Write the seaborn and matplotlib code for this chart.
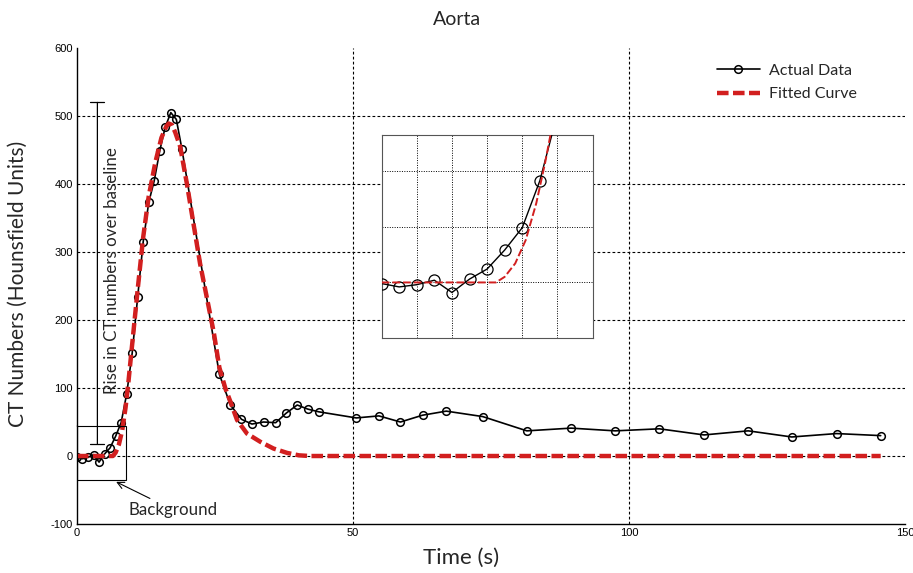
import matplotlib
matplotlib.use("Agg")
import matplotlib.pyplot as plt
import seaborn as sns
import pandas as pd
from matplotlib.patches import Rectangle, ConnectionPatch

# ---------------- data ----------------
t_actual = [0, 1, 2, 3, 4, 5, 6, 7, 8, 9, 10, 11, 12, 13, 14, 15, 16, 17, 18, 19,
            25.8, 27.8, 29.8, 31.7, 33.8, 36.0, 37.9, 39.9, 41.8, 43.8,
            50.6, 54.7, 58.6, 62.6, 66.9, 73.5, 81.5, 89.5, 97.5, 105.5,
            113.6, 121.6, 129.5, 137.6, 145.6]
hu_actual = [-1, -4, -2, 2, -9, 3, 12, 29, 49, 91, 151, 234, 315, 373, 405, 449, 484, 505, 495, 452,
             120, 75, 54, 47, 50, 49, 63, 75, 69, 65,
             56, 59, 50, 60, 66, 58, 37, 41, 37, 40,
             31, 37, 28, 33, 30]

t_fit = [0, 6.5, 7.0, 7.6, 8.2, 8.8, 9.3, 9.8, 11.0, 12.0, 13.0, 14.2, 15.3, 16.2, 16.6,
         17.2, 17.8, 18.7, 19.9, 21.1, 22.3, 23.6, 24.8, 25.8, 26.9, 27.7, 29.0, 30.8,
         33.2, 35.6, 38.1, 40.2, 42.2, 145.6]
hu_fit = [0, 0, 5, 17, 38, 71, 107, 148, 245, 322, 382, 432, 468, 485, 489,
          487, 476, 455, 401, 342, 283, 230, 181, 130, 99, 82, 53, 33,
          21, 11, 4.5, 1, 0, 0]

x_ticks = [0, 50, 100, 150]
y_ticks = [-100, 0, 100, 200, 300, 400, 500, 600]

df_act = pd.DataFrame({"t": t_actual, "hu": hu_actual})
df_fit = pd.DataFrame({"t": t_fit, "hu": hu_fit})

# ---------------- style ----------------
sns.set_theme(style="white")
plt.rcParams["font.family"] = ["Lato", "DejaVu Sans"]

RED = "#d21f1f"
GRID = dict(color="black", linestyle=(0, (2.5, 2.0)), linewidth=0.8)

fig = plt.figure(figsize=(9.13, 5.73), dpi=100)
ax = fig.add_axes([0.0843, 0.0855, 0.9069, 0.8307])

sns.lineplot(data=df_act, x="t", y="hu", ax=ax, color="black", linewidth=1.2,
             marker="o", markersize=5.5, markerfacecolor="none",
             markeredgecolor="black", markeredgewidth=1.1, label="Actual Data",
             zorder=4)
sns.lineplot(data=df_fit, x="t", y="hu", ax=ax, color=RED, linewidth=3.2,
             linestyle=(0, (2.6, 1.0)), label="Fitted Curve", zorder=5)

ax.set_xlim(0, 150)
ax.set_ylim(-100, 600)
ax.set_xticks(x_ticks)
ax.set_yticks(y_ticks)
ax.set_xticklabels([str(v) for v in x_ticks], family="Liberation Sans", fontsize=8)
ax.set_yticklabels([str(v) for v in y_ticks], family="Liberation Sans", fontsize=8)
ax.tick_params(axis="both", direction="in", length=4, width=0.8, pad=3, colors="black")

for v in [0, 100, 200, 300, 400, 500]:
    ax.axhline(v, zorder=1, **GRID)
for v in [50, 100]:
    ax.axvline(v, zorder=1, **GRID)

for s in ["top", "right"]:
    ax.spines[s].set_visible(False)
for s in ["left", "bottom"]:
    ax.spines[s].set_color("black")
    ax.spines[s].set_linewidth(1.0)

ax.set_xlabel("")
ax.set_ylabel("")
fig.text(0.505, 0.026, "Time (s)", ha="center", va="center", fontsize=16)
fig.text(0.02, 0.505, "CT Numbers (Hounsfield Units)", ha="center", va="center",
         rotation=90, fontsize=15)
fig.text(0.5, 0.966, "Aorta", ha="center", va="center", fontsize=14)

leg = ax.legend(loc="upper right", bbox_to_anchor=(0.95, 0.981), frameon=False,
                fontsize=11.5, handlelength=2.7, handletextpad=0.6,
                labelspacing=0.6, borderaxespad=0)

# ---------------- annotations ----------------
ax.annotate("", xy=(3.7, 520), xytext=(3.7, 18),
            arrowprops=dict(arrowstyle="|-|, widthA=0.5, widthB=0.5", lw=0.9,
                            color="black", shrinkA=0, shrinkB=0, mutation_scale=10))
ax.text(6.3, 272, "Rise in CT numbers over baseline", rotation=90, ha="center",
        va="center", fontsize=12.2)

ax.add_patch(Rectangle((0, -36), 8.85, 80, fill=False, edgecolor="black",
                       linewidth=0.8, zorder=6))
ax.annotate("Background", xy=(7.1, -38), xytext=(9.3, -79), fontsize=12.2,
            ha="left", va="center",
            arrowprops=dict(arrowstyle="->", lw=0.8, color="black",
                            shrinkA=0, shrinkB=0))

# ---------------- inset ----------------
axins = fig.add_axes([0.418, 0.4096, 0.231, 0.3548])
sns.lineplot(data=df_act, x="t", y="hu", ax=axins, color="black", linewidth=1.0,
             marker="o", markersize=8, markerfacecolor="none",
             markeredgecolor="black", markeredgewidth=0.9, legend=False, zorder=4)
sns.lineplot(data=df_fit, x="t", y="hu", ax=axins, color=RED, linewidth=1.4,
             linestyle=(0, (4, 1.5)), legend=False, zorder=5)
axins.set_xlim(0, 12)
axins.set_ylim(-50, 132)
axins.set_xticks([])
axins.set_yticks([])
axins.set_xlabel("")
axins.set_ylabel("")
axins.set_facecolor("white")
for v in [2, 4, 6, 8, 10]:
    axins.axvline(v, color="black", linestyle=(0, (1, 1.5)), linewidth=0.7, zorder=1)
for v in [-50, 0, 50, 100]:
    axins.axhline(v, color="black", linestyle=(0, (1, 1.5)), linewidth=0.7, zorder=1)
for s in axins.spines.values():
    s.set_color("#555555")
    s.set_linewidth(0.8)

for xyA, xyB in [((0, 44), (0, 1)), ((8.85, -36), (1, 0))]:
    con = ConnectionPatch(xyA=xyA, coordsA=ax.transData, xyB=xyB,
                          coordsB=axins.transAxes, color="#444444",
                          linestyle=(0, (1, 1)), linewidth=0.6, zorder=0)
    fig.add_artist(con)

fig.savefig("out.png", dpi=100)
